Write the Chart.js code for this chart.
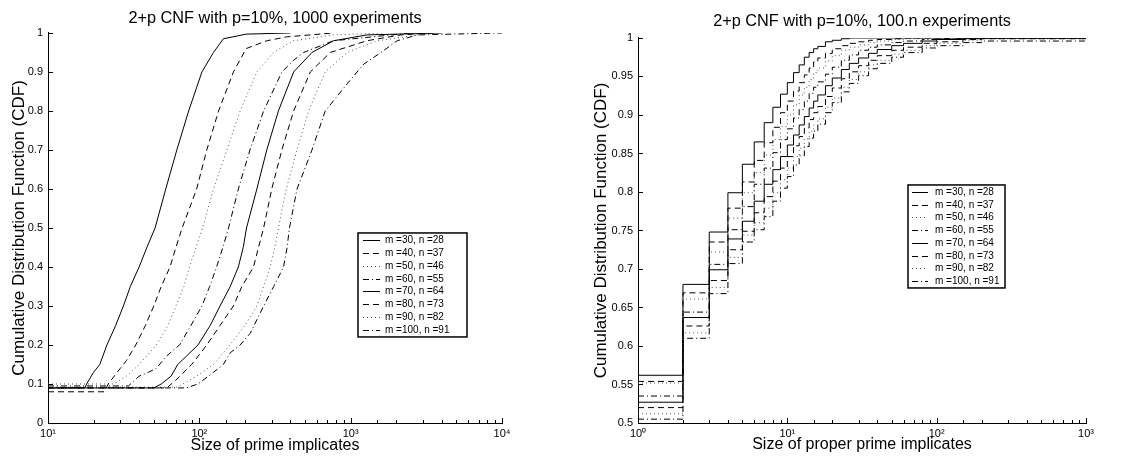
<!DOCTYPE html>
<html>
<head>
<meta charset="utf-8">
<script src="https://cdn.jsdelivr.net/npm/chart.js@4.4.0/dist/chart.umd.min.js"></script>
<style>
  body { margin: 0; background: #fff; }
  #wrap { position: relative; width: 1139px; height: 462px; }
  #leftChart { position: absolute; left: 0; top: 0; }
  #rightChart { position: absolute; left: 570px; top: 0; }
</style>
</head>
<body>
<div id="wrap">
  <canvas id="leftChart" width="570" height="462"></canvas>
  <canvas id="rightChart" width="569" height="462"></canvas>
</div>
<script>
// legend labels, same for both panels
const seriesLabels = ['m =30, n =28', 'm =40, n =37', 'm =50, n =46', 'm =60, n =55',
                      'm =70, n =64', 'm =80, n =73', 'm =90, n =82', 'm =100, n =91'];

// left panel: [size, CDF] (1000 experiments)
const leftM30 = [[10,.09],[17.5,.09],[18,.1],[20,.13],[22,.15],[24.5,.2],[28,.25],[31.5,.3],[35,.35],[40,.4],[45,.45],[51,.5],[60,.6],[71,.7],[85,.8],[104,.9],[124,.95],[144,.985],[204,.997],[400,1]];
const leftM40 = [[10,.08],[23.5,.08],[25,.1],[30,.14],[33,.16],[38,.2],[44,.25],[50,.3],[56,.35],[64,.4],[70,.45],[77,.5],[96,.6],[112,.7],[134,.8],[168,.9],[204,.96],[279,.98],[378,.99],[770,1]];
const leftM50 = [[10,.1],[27,.1],[33,.12],[40,.15],[52,.2],[62,.25],[70,.3],[79,.35],[86,.4],[95,.45],[105,.5],[124,.6],[152,.7],[186,.8],[240,.9],[309,.95],[417,.98],[770,.995],[1660,1]];
const leftM60 = [[10,.095],[34,.095],[40,.12],[46,.13],[52,.14],[60,.17],[74,.2],[88,.25],[104,.3],[117,.35],[130,.4],[143,.45],[156,.5],[181,.6],[216,.7],[266,.8],[351,.9],[420,.93],[489,.95],[770,.98],[2500,1]];
const leftM70 = [[10,.09],[50,.09],[56,.1],[65,.12],[72,.15],[98,.2],[118,.25],[137,.3],[160,.35],[181,.4],[195,.45],[205,.5],[240,.6],[279,.7],[333,.8],[420,.9],[555,.95],[770,.98],[1282,.995],[4000,1]];
const leftM80 = [[10,.09],[61,.09],[70,.11],[89,.15],[112,.2],[137,.25],[168,.3],[191,.35],[228,.4],[246,.45],[266,.5],[301,.6],[351,.7],[420,.8],[541,.9],[733,.95],[1282,.98],[2140,.995],[3500,1]];
const leftM90 = [[10,.092],[71,.092],[96,.12],[124,.15],[159,.2],[200,.25],[240,.3],[266,.35],[294,.4],[315,.45],[333,.5],[375,.6],[442,.7],[527,.8],[679,.9],[946,.95],[1494,.98],[3500,1]];
const leftM100 = [[10,.09],[82,.09],[98,.1],[124,.13],[144,.15],[160,.18],[186,.2],[217,.23],[266,.3],[310,.35],[360,.4],[380,.45],[394,.5],[442,.6],[555,.7],[679,.8],[950,.87],[1219,.92],[1585,.95],[2030,.98],[2760,.995],[10000,1]];

// right panel: sizes and CDF values (100.n experiments), drawn as stairs
const rightSizes = [1,2,3,4,5,6,7,8,9,10,11,12,13,14,15,16,18,20,23,26,30,35,40,50,60,80,100,150,200,1000];
const rightM30  = [.562,.680,.748,.799,.836,.865,.890,.910,.927,.942,.955,.965,.975,.981,.986,.989,.995,.997,.999,1,1,1,1,1,1,1,1,1,1,1];
const rightM40  = [.554,.669,.735,.779,.813,.841,.864,.884,.903,.918,.931,.942,.952,.961,.969,.974,.980,.986,.990,.993,.995,.997,.998,.999,1,1,1,1,1,1];
const rightM50  = [.552,.661,.722,.766,.799,.825,.848,.868,.885,.900,.913,.926,.936,.946,.955,.961,.970,.977,.984,.988,.991,.994,.996,.998,.999,1,1,1,1,1];
const rightM60  = [.535,.644,.706,.751,.781,.810,.831,.851,.868,.882,.896,.907,.918,.928,.936,.943,.953,.962,.971,.978,.984,.988,.991,.994,.996,.998,.999,1,1,1];
const rightM70  = [.527,.637,.699,.739,.762,.788,.810,.829,.846,.861,.874,.887,.898,.909,.918,.926,.938,.948,.959,.967,.974,.980,.985,.990,.993,.996,.998,.999,1,1];
const rightM80  = [.520,.626,.685,.725,.749,.773,.794,.814,.831,.846,.860,.872,.883,.894,.903,.911,.924,.935,.947,.956,.964,.971,.977,.984,.988,.993,.995,.998,.999,1];
const rightM90  = [.512,.617,.676,.715,.744,.760,.779,.799,.816,.831,.846,.857,.869,.879,.887,.895,.910,.922,.936,.946,.956,.965,.971,.979,.984,.990,.993,.997,.999,1];
const rightM100 = [.505,.610,.668,.707,.735,.751,.768,.788,.805,.820,.835,.847,.859,.870,.879,.888,.903,.916,.930,.941,.951,.960,.967,.975,.981,.987,.990,.994,.996,1];

const FONT = '"Liberation Sans", Arial, Helvetica, sans-serif';
Chart.defaults.font.family = FONT;
Chart.defaults.color = '#000';

// matlab-ish line styles: solid, dashed, dotted, dash-dot (twice)
const lineStyles = [
  { dash: [], color: '#000' },
  { dash: [6, 4], color: '#000' },
  { dash: [1, 3], color: '#555' },
  { dash: [6, 3, 1, 3], color: '#000' }
];

const sup = ['\u2070', '\u00b9', '\u00b2', '\u00b3', '\u2074'];
const isPow10 = v => {
  const e = Math.log10(v);
  return Math.abs(e - Math.round(e)) < 1e-9;
};
const powLabel = v => isPow10(v) ? '10' + sup[Math.round(Math.log10(v))] : '';

const makeSet = (label, pts, i, stepped) => {
  const st = lineStyles[i % 4];
  return {
    label: label,
    data: pts.map(p => ({ x: p[0], y: p[1] })),
    borderColor: st.color,
    borderDash: st.dash,
    borderWidth: 1,
    pointRadius: 0,
    fill: false,
    tension: 0,
    stepped: stepped
  };
};

// tick marks pointing into the plot, like the original figure
const inTicks = {
  id: 'inTicks',
  afterDatasetsDraw(chart) {
    const { ctx, scales: { x, y } } = chart;
    ctx.save();
    ctx.strokeStyle = '#000';
    ctx.lineWidth = 1;
    ctx.setLineDash([]);
    ctx.beginPath();
    x.ticks.forEach(t => {
      const px = Math.round(x.getPixelForValue(t.value)) + 0.5;
      const len = isPow10(t.value) ? 5 : 3;
      ctx.moveTo(px, x.top);
      ctx.lineTo(px, x.top - len);
    });
    y.ticks.forEach(t => {
      const py = Math.round(y.getPixelForValue(t.value)) + 0.5;
      ctx.moveTo(y.right, py);
      ctx.lineTo(y.right + 5, py);
    });
    ctx.stroke();
    ctx.restore();
  }
};

// boxed legend sitting inside the axes
const boxLegend = {
  id: 'boxLegend',
  afterDraw(chart, args, opts) {
    const { ctx, chartArea } = chart;
    const sets = chart.data.datasets;
    const x0 = chartArea.left + opts.left;
    const y0 = chartArea.top + opts.top;
    const h = sets.length * opts.rowH + 2 * opts.pad;
    ctx.save();
    ctx.fillStyle = '#fff';
    ctx.fillRect(x0, y0, opts.width, h);
    ctx.setLineDash([]);
    ctx.strokeStyle = '#000';
    ctx.lineWidth = 1.5;
    ctx.strokeRect(x0, y0, opts.width, h);
    ctx.font = '10px ' + FONT;
    ctx.textBaseline = 'middle';
    sets.forEach((ds, i) => {
      const cy = Math.round(y0 + opts.pad + opts.rowH * (i + 0.5)) + 0.5;
      ctx.strokeStyle = ds.borderColor;
      ctx.lineWidth = 1;
      ctx.setLineDash(ds.borderDash);
      ctx.beginPath();
      ctx.moveTo(x0 + opts.s0, cy);
      ctx.lineTo(x0 + opts.s1, cy);
      ctx.stroke();
      ctx.fillStyle = '#000';
      ctx.fillText(ds.label, x0 + opts.textX, cy);
    });
    ctx.restore();
  }
};

const buildOptions = (cfg) => ({
  responsive: false,
  animation: false,
  devicePixelRatio: 1,
  layout: { padding: { left: 0, right: cfg.padRight, top: 0, bottom: 0 } },
  plugins: {
    legend: { display: false },
    tooltip: { enabled: false },
    title: {
      display: true,
      text: cfg.title,
      fullSize: false,
      color: '#000',
      font: { size: 16.3, weight: 'normal' },
      padding: { top: cfg.titleTop, bottom: cfg.titleBottom }
    },
    boxLegend: cfg.legend
  },
  scales: {
    x: {
      type: 'logarithmic',
      min: cfg.xMin,
      max: cfg.xMax,
      grid: { display: false, drawTicks: false },
      border: { display: true, color: '#000', width: 1 },
      ticks: { autoSkip: false, maxRotation: 0, padding: 4, color: '#000', font: { size: 11 }, callback: powLabel },
      title: { display: true, text: cfg.xTitle, color: '#000', font: { size: 16 }, padding: { top: 0, bottom: cfg.xTitleBottom } },
      afterFit: s => { s.height = 39; }
    },
    y: {
      type: 'linear',
      min: cfg.yMin,
      max: 1,
      grid: { display: false, drawTicks: false },
      border: { display: true, color: '#000', width: 1 },
      ticks: { stepSize: cfg.yStep, padding: 5, color: '#000', font: { size: 11 },
               callback: v => String(Math.round(v * 100) / 100) },
      title: { display: true, text: 'Cumulative Distribution Function (CDF)', color: '#000', font: { size: 17 }, padding: { top: cfg.yTitleTop, bottom: 0 } },
      afterFit: s => { s.width = cfg.yWidth; }
    }
  }
});

const leftCurves = [leftM30, leftM40, leftM50, leftM60, leftM70, leftM80, leftM90, leftM100];
new Chart(document.getElementById('leftChart').getContext('2d'), {
  type: 'line',
  data: { datasets: leftCurves.map((c, i) => makeSet(seriesLabels[i], c, i, false)) },
  options: buildOptions({
    title: '2+p CNF with p=10%, 1000 experiments',
    xTitle: 'Size of prime implicates',
    xMin: 10, xMax: 10000, yMin: 0, yStep: 0.1,
    padRight: 68, yWidth: 48, titleTop: 9.2, titleBottom: 4.2,
    xTitleBottom: 7, yTitleTop: 9,
    legend: { left: 310, top: 200, width: 109, rowH: 12.8, pad: 0.8, s0: 5, s1: 22, textX: 27 }
  }),
  plugins: [inTicks, boxLegend]
});

const rightCurves = [rightM30, rightM40, rightM50, rightM60, rightM70, rightM80, rightM90, rightM100];
new Chart(document.getElementById('rightChart').getContext('2d'), {
  type: 'line',
  data: { datasets: rightCurves.map((vals, i) => makeSet(seriesLabels[i], rightSizes.map((s, j) => [s, vals[j]]), i, true)) },
  options: buildOptions({
    title: '2+p CNF with p=10%, 100.n experiments',
    xTitle: 'Size of proper prime implicates',
    xMin: 1, xMax: 1000, yMin: 0.5, yStep: 0.05,
    padRight: 53, yWidth: 68, titleTop: 12.2, titleBottom: 6.2,
    xTitleBottom: 8, yTitleTop: 21,
    legend: { left: 270, top: 147, width: 97, rowH: 12.7, pad: 0.7, s0: 4, s1: 20, textX: 27 }
  }),
  plugins: [inTicks, boxLegend]
});
</script>
</body>
</html>
